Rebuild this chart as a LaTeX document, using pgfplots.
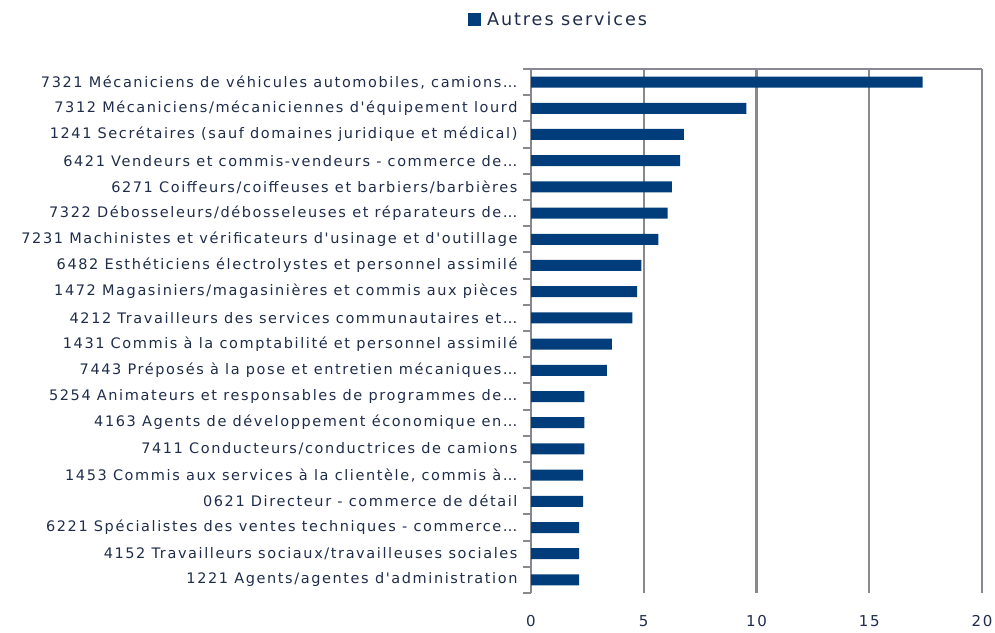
\documentclass[border=0pt]{standalone}
\usepackage{fontspec}
\setmainfont{DejaVu Sans}
\newfontfamily\lab[LetterSpace=11]{DejaVu Sans}
\usepackage{pgfplots}
\pgfplotsset{compat=1.18}
\definecolor{barblue}{RGB}{0,61,122}
\definecolor{txt}{RGB}{31,45,74}
\definecolor{gridgray}{RGB}{136,136,144}
\begin{document}
\begin{tikzpicture}[x=1pt,y=1pt]
\path[use as bounding box] (0,0) rectangle (995,632);
\begin{axis}[
 at={(531pt,39pt)}, anchor=south west,
 scale only axis, width=451pt, height=524pt,
 xbar, bar width=11pt, bar shift=0pt,
 xmin=0, xmax=20, ymin=0.5, ymax=20.5,
 xtick={0,5,10,15,20},
 ytick={1,...,20},
 yticklabels={
 {1221 Agents/agentes d'administration},
 {4152 Travailleurs sociaux/travailleuses sociales},
 {6221 Spécialistes des ventes techniques - commerce…},
 {0621 Directeur - commerce de détail},
 {1453 Commis aux services à la clientèle, commis à…},
 {7411 Conducteurs/conductrices de camions},
 {4163 Agents de développement économique en…},
 {5254 Animateurs et responsables de programmes de…},
 {7443 Préposés à la pose et entretien mécaniques…},
 {1431 Commis à la comptabilité et personnel assimilé},
 {4212 Travailleurs des services communautaires et…},
 {1472 Magasiniers/magasinières et commis aux pièces},
 {6482 Esthéticiens électrolystes et personnel assimilé},
 {7231 Machinistes et vérificateurs d'usinage et d'outillage},
 {7322 Débosseleurs/débosseleuses et réparateurs de…},
 {6271 Coiffeurs/coiffeuses et barbiers/barbières},
 {6421 Vendeurs et commis-vendeurs - commerce de…},
 {1241 Secrétaires (sauf domaines juridique et médical)},
 {7312 Mécaniciens/mécaniciennes d'équipement lourd},
 {7321 Mécaniciens de véhicules automobiles, camions…}},
 minor ytick={0.5,1.5,...,20.5},
 ytick pos=left, xtick pos=bottom,
 axis line style={draw=none},
 xmajorgrids, grid style={gridgray, line width=2.4pt},
 major tick length=0pt,
 minor tick length=8pt,
 tick align=outside,
 minor tick style={gridgray, line width=2pt},
 /pgf/number format/assume math mode=true,
 yticklabel style={font=\lab\fontsize{14.5}{16}\selectfont, text=txt, xshift=-10pt},
 xticklabel style={font=\lab\fontsize{15}{17}\selectfont, text=txt, yshift=-19pt},
 legend style={draw=none, fill=none, at={(-0.14,1.0935)}, anchor=west, inner sep=0pt,
   font=\lab\fontsize{17.6}{20}\selectfont, text=txt},
 legend image code/.code={\fill[barblue] (0pt,-6.5pt) rectangle (13pt,6.5pt);},
]
\addplot[fill=barblue, draw=none] coordinates {
(2.13,1) (2.13,2) (2.13,3) (2.31,4) (2.31,5) (2.37,6) (2.37,7) (2.37,8)
(3.37,9) (3.59,10) (4.49,11) (4.71,12) (4.89,13) (5.65,14) (6.06,15)
(6.25,16) (6.61,17) (6.78,18) (9.55,19) (17.37,20)};
\addlegendentry{\hspace{4pt}Autres services}
\draw[gridgray, line width=2.4pt] (rel axis cs:0,1) -- (rel axis cs:1,1);
\end{axis}
\end{tikzpicture}
\end{document}
